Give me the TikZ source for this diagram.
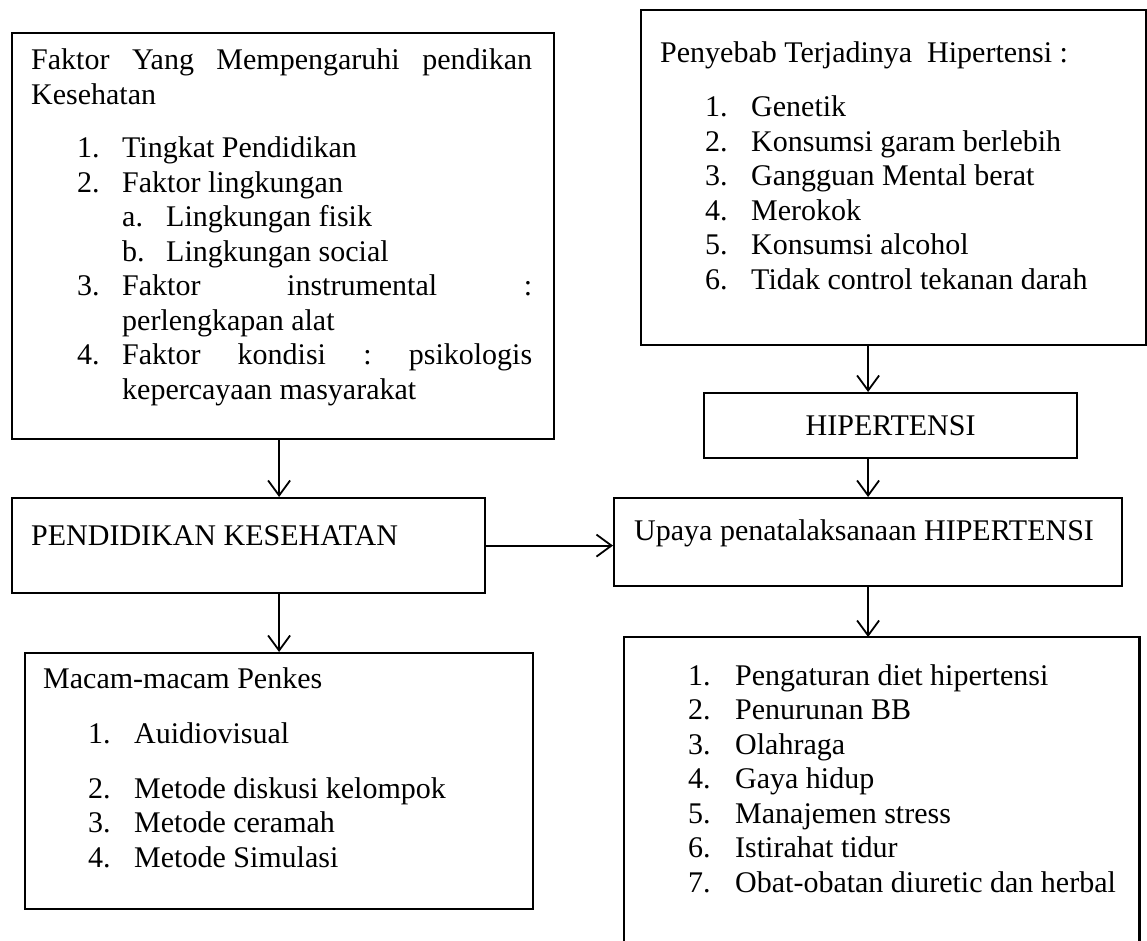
\documentclass[tikz,border=0pt]{standalone}
\usepackage{fontspec}
\setmainfont{Liberation Serif}
\usetikzlibrary{arrows.meta}

\tikzset{
  kotak/.style={draw, line width=2.2pt, inner sep=0pt, anchor=north west},
  isi/.style={inner sep=0pt, anchor=base west},
  panah/.style={line width=1.8pt, -{Straight Barb[length=15pt,width=22pt,line width=1.8pt]}},
}
% indent, label width, label
\newcommand{\nomor}[3]{\hspace*{#1}\makebox[#2][l]{#3}}

\begin{document}
\begin{tikzpicture}[x=1pt, y=-1pt, every node/.style={font=\fontsize{30pt}{34.5pt}\selectfont}]
\useasboundingbox (0,0) rectangle (1147,941);

% kiri
\node[kotak, minimum width=542pt, minimum height=406pt] (faktor) at (11,32) {};
\node[isi] (faktortxt) at (31,70) {\parbox[t]{501pt}{%
Faktor\hfill Yang\hfill Mempengaruhi\hfill pendikan\\
Kesehatan\\[19pt]
\nomor{46pt}{45pt}{1.}Tingkat Pendidikan\\
\nomor{46pt}{45pt}{2.}Faktor lingkungan\\
\nomor{91pt}{44pt}{a.}Lingkungan fisik\\
\nomor{91pt}{44pt}{b.}Lingkungan social\\
\nomor{46pt}{45pt}{3.}Faktor\hfill instrumental\hfill :\\
\hspace*{91pt}perlengkapan alat\\
\nomor{46pt}{45pt}{4.}Faktor\hfill kondisi\hfill :\hfill psikologis\\
\hspace*{91pt}kepercayaan masyarakat}};

\node[kotak, minimum width=473pt, minimum height=95pt] (pk) at (11,497) {};
\node[isi] (pktxt) at (31,545) {PENDIDIKAN KESEHATAN};

\node[kotak, minimum width=508pt, minimum height=256pt] (macam) at (24,652) {};
\node[isi] (macamtxt) at (43,688) {\parbox[t]{480pt}{%
Macam-macam Penkes\\[20.5pt]
\nomor{45pt}{46pt}{1.}Auidiovisual\\[20.5pt]
\nomor{45pt}{46pt}{2.}Metode diskusi kelompok\\
\nomor{45pt}{46pt}{3.}Metode ceramah\\
\nomor{45pt}{46pt}{4.}Metode Simulasi}};

% kanan
\node[kotak, minimum width=505pt, minimum height=335pt] (sebab) at (640,9) {};
\node[isi] (sebabtxt) at (660,63) {\parbox[t]{480pt}{%
Penyebab Terjadinya\ \ Hipertensi :\\[19.5pt]
\nomor{45pt}{46pt}{1.}Genetik\\
\nomor{45pt}{46pt}{2.}Konsumsi garam berlebih\\
\nomor{45pt}{46pt}{3.}Gangguan Mental berat\\
\nomor{45pt}{46pt}{4.}Merokok\\
\nomor{45pt}{46pt}{5.}Konsumsi alcohol\\
\nomor{45pt}{46pt}{6.}Tidak control tekanan darah}};

\node[kotak, minimum width=373pt, minimum height=65pt] (hiper) at (703,392) {HIPERTENSI};

\node[kotak, minimum width=508pt, minimum height=88pt] (upaya) at (613,497) {};
\node[isi] (upayatxt) at (634,540) {Upaya penatalaksanaan HIPERTENSI};

\node[anchor=north west, inner sep=0pt, minimum width=515pt, minimum height=304pt] (terapi) at (624,637) {};
\draw[line width=2.2pt] (terapi.south west) -- (terapi.north west) -- (terapi.north east) -- (terapi.south east);
\node[isi] (terapitxt) at (688,685) {\parbox[t]{440pt}{%
\makebox[47pt][l]{1.}Pengaturan diet hipertensi\\
\makebox[47pt][l]{2.}Penurunan BB\\
\makebox[47pt][l]{3.}Olahraga\\
\makebox[47pt][l]{4.}Gaya hidup\\
\makebox[47pt][l]{5.}Manajemen stress\\
\makebox[47pt][l]{6.}Istirahat tidur\\
\makebox[47pt][l]{7.}Obat-obatan diuretic dan herbal}};

% panah
\draw[panah] (faktor.south -| macam.north) -- (pk.north -| macam.north);
\draw[panah] (pk.south -| macam.north) -- (macam.north);
\draw[panah] (pk.east) -- (pk.east -| upaya.west);
\draw[panah] (sebab.south -| upaya.north) -- (hiper.north -| upaya.north);
\draw[panah] (hiper.south -| upaya.north) -- (upaya.north);
\draw[panah] (upaya.south) -- (terapi.north -| upaya.south);
\end{tikzpicture}
\end{document}
